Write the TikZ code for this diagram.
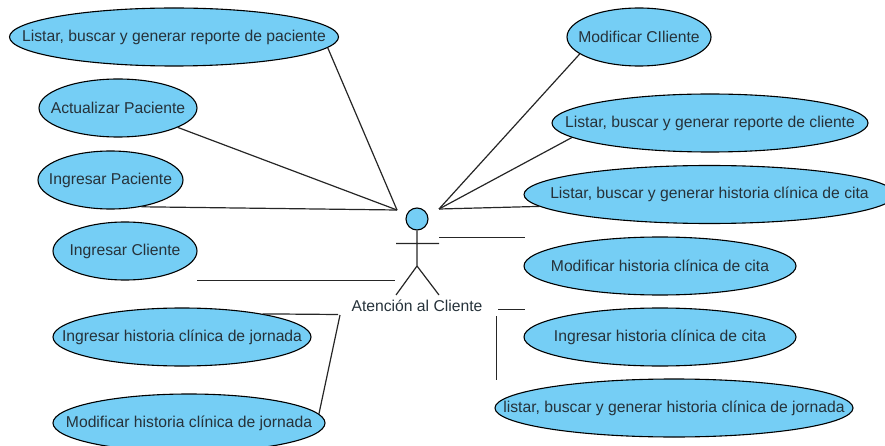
\documentclass[tikz,border=0pt]{standalone}
\usepackage{fontspec}
\setmainfont{Liberation Sans}
\usetikzlibrary{shapes.geometric}
\definecolor{ucfill}{HTML}{75CEF5}
\definecolor{uctext}{HTML}{26323A}
\newcommand{\uclabel}[1]{\makebox[0pt]{\raisebox{-1pt}{#1}}}
\tikzset{
  usecase/.style={ellipse,draw=black,fill=ucfill,line width=1.1pt,inner sep=0pt,minimum height=58pt,text=uctext,font=\fontsize{15.7}{18}\selectfont},
  link/.style={line width=1.2pt,black!85}
}
\begin{document}
\begin{tikzpicture}[x=1pt,y=-1pt]
\useasboundingbox (0,0) rectangle (885,446);
\node[usecase,minimum width=329pt] (listpac) at (174,37) {\uclabel{Listar, buscar y generar reporte de paciente}};
\node[usecase,minimum width=158pt] (actpac) at (118,108) {\uclabel{Actualizar Paciente}};
\node[usecase,minimum width=145pt] (ingpac) at (110.5,180) {\uclabel{Ingresar Paciente}};
\node[usecase,minimum width=144pt] (ingcli) at (125,251) {\uclabel{Ingresar Cliente}};
\node[usecase,minimum width=258pt] (ingjor) at (182,337) {\uclabel{Ingresar historia clínica de jornada}};
\node[usecase,minimum width=272pt] (modjor) at (189,423) {\uclabel{Modificar historia clínica de jornada}};
\node[usecase,minimum width=144pt] (modcli) at (639,37) {\uclabel{Modificar CIliente}};
\node[usecase,minimum width=316pt] (listcli) at (710,123) {\uclabel{Listar, buscar y generar reporte de cliente}};
\node[usecase,minimum width=371pt] (listcit) at (709.5,194.5) {\uclabel{Listar, buscar y generar historia clínica de cita}};
\node[usecase,minimum width=272pt] (modcit) at (660,266) {\uclabel{Modificar historia clínica de cita}};
\node[usecase,minimum width=272pt] (ingcit) at (660,337) {\uclabel{Ingresar historia clínica de cita}};
\node[usecase,minimum width=358pt] (listjor) at (674,408) {\uclabel{listar, buscar y generar historia clínica de jornada}};
% actor
\node[circle,draw=black,fill=ucfill,line width=1.1pt,minimum size=22pt,inner sep=0pt] (head) at (417,219) {};
\coordinate (hip) at (417,266);
\draw[link] (head.south)--(hip)--(396,295) (hip)--(439,295) (396,243.5)--(439,243.5);
\node[font=\fontsize{15.7}{18}\selectfont,text=uctext] (actor) at (417,306) {Atención al Cliente};
% free ends
\coordinate (actl) at (397,210);
\coordinate (actr) at (439,209);
\coordinate (clia) at (197,280.5);
\coordinate (clib) at (395,280.5);
\coordinate (jorn) at (338,314.5);
\coordinate (jornb) at (340,315);
\coordinate (cita) at (439,237.5);
\coordinate (citb) at (525,237.5);
\coordinate (citc) at (498,309.5);
\coordinate (citd) at (525,309.5);
\coordinate (cite) at (496.5,316);
\coordinate (citf) at (496.5,380);
\draw[link] (listpac.-4)--(actl);
\draw[link] (actpac.-18.7)--(actl);
\draw[link] (ingpac.-41.5)--(actl);
\draw[link] (clia)--(clib);
\draw[link] (ingjor.16)--(jorn);
\draw[link] (modjor.4)--(jornb);
\draw[link] (modcli.196.4)--(actr);
\draw[link] (listcli.186.8)--(actr);
\draw[link] (listcit.184.9)--(actr);
\draw[link] (cita)--(citb);
\draw[link] (citc)--(citd);
\draw[link] (cite)--(citf);
\end{tikzpicture}
\end{document}
